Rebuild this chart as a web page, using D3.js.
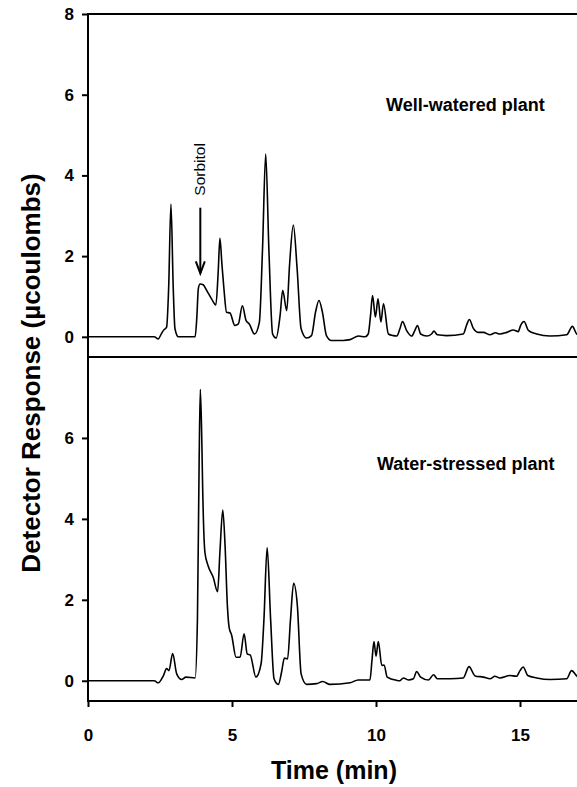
<!DOCTYPE html>
<html>
<head>
<meta charset="utf-8">
<script src="https://cdn.jsdelivr.net/npm/d3@7"></script>
<style>
  body { margin: 0; background: #fff; }
  svg { display: block; font-family: "Liberation Sans", Arial, sans-serif; }
</style>
</head>
<body>
<script>
// chromatogram traces (time in min, response in µcoulombs)
var wellTime = [0, 1, 2, 2.3, 2.44, 2.55, 2.62, 2.73, 2.8, 2.88, 2.96, 3.02, 3.14, 3.72, 3.78, 3.83, 3.89, 4.0, 4.12, 4.29, 4.44, 4.52, 4.58, 4.65, 4.72, 4.81, 4.93, 5.1, 5.22, 5.36, 5.49, 5.6, 5.78, 5.95, 6.06, 6.17, 6.28, 6.41, 6.53, 6.67, 6.76, 6.9, 7.0, 7.13, 7.26, 7.4, 7.59, 7.76, 7.9, 8.02, 8.14, 8.28, 8.45, 8.86, 9.1, 9.39, 9.62, 9.73, 9.81, 9.88, 9.98, 10.07, 10.17, 10.26, 10.43, 10.6, 10.72, 10.83, 10.92, 11.06, 11.24, 11.35, 11.44, 11.55, 11.76, 11.93, 12.01, 12.13, 12.45, 13.03, 13.15, 13.24, 13.38, 13.56, 13.73, 13.96, 14.15, 14.3, 14.54, 14.77, 14.94, 15.02, 15.14, 15.29, 15.58, 16.04, 16.62, 16.82, 16.97, 17.0];
var wellResp = [0, 0, 0, 0, -0.05, 0.08, 0.16, 0.24, 1.2, 3.29, 1.2, 0.2, 0, 0, 0.5, 1.19, 1.31, 1.29, 1.15, 0.94, 0.79, 1.6, 2.44, 1.8, 1.19, 0.61, 0.59, 0.28, 0.32, 0.77, 0.4, 0.32, 0.07, 0.36, 2.18, 4.53, 2.18, 0.07, -0.03, 0.53, 1.15, 0.65, 1.8, 2.77, 1.7, 0.2, -0.03, 0.03, 0.61, 0.9, 0.61, 0.03, -0.09, -0.09, -0.07, 0.02, 0, 0.07, 0.53, 1.02, 0.49, 0.94, 0.37, 0.82, 0.07, 0.03, 0.02, 0.2, 0.38, 0.16, 0.02, 0.16, 0.28, 0.07, 0.02, 0.07, 0.14, 0.05, 0.03, 0.07, 0.3, 0.43, 0.21, 0.11, 0.11, 0.05, 0.1, 0.07, 0.11, 0.17, 0.13, 0.28, 0.38, 0.16, 0.07, 0.02, 0.05, 0.26, 0.07, 0.06];

var stressTime = [0, 1, 2, 2.3, 2.44, 2.62, 2.73, 2.81, 2.94, 3.08, 3.25, 3.4, 3.72, 3.8, 3.86, 3.9, 3.95, 3.98, 4.06, 4.17, 4.35, 4.5, 4.58, 4.68, 4.76, 4.84, 4.9, 4.99, 5.14, 5.28, 5.42, 5.53, 5.63, 5.83, 6.01, 6.11, 6.22, 6.34, 6.46, 6.61, 6.72, 6.82, 6.93, 7.03, 7.14, 7.27, 7.4, 7.59, 7.94, 8.15, 8.4, 9.1, 9.38, 9.79, 9.86, 9.93, 10.0, 10.08, 10.2, 10.28, 10.39, 10.72, 10.83, 10.95, 11.12, 11.3, 11.41, 11.55, 11.82, 12.0, 12.13, 12.57, 13.03, 13.23, 13.44, 13.73, 13.96, 14.13, 14.3, 14.65, 14.88, 15.0, 15.11, 15.27, 15.58, 16.04, 16.62, 16.79, 16.97, 17.0];
var stressResp = [0, 0, 0, 0, -0.05, 0.13, 0.3, 0.25, 0.67, 0.17, 0.03, 0.09, 0.07, 1.53, 5.5, 7.2, 6.0, 4.81, 3.17, 2.84, 2.55, 2.2, 3.17, 4.22, 3.33, 1.85, 1.32, 1.12, 0.58, 0.58, 1.16, 0.66, 0.64, 0.09, 0.42, 1.53, 3.29, 1.53, 0.05, -0.09, 0.21, 0.56, 0.54, 1.5, 2.41, 1.85, 0.17, -0.09, -0.07, -0.02, -0.09, -0.05, 0.02, 0.02, 0.5, 0.97, 0.61, 0.97, 0.38, 0.39, 0.09, 0.01, 0, 0.07, 0.02, 0.05, 0.23, 0.09, 0.02, 0.15, 0.05, 0.05, 0.07, 0.35, 0.12, 0.09, 0.05, 0.11, 0.07, 0.13, 0.11, 0.25, 0.34, 0.13, 0.07, 0.03, 0.05, 0.25, 0.12, 0.1];

var xTicks = [0, 5, 10, 15];
var wellTicks = [0, 2, 4, 6, 8];
var stressTicks = [0, 2, 4, 6];

var width = 577, height = 787;

var svg = d3.select("body").append("svg")
  .attr("width", width)
  .attr("height", height);

var x = d3.scaleLinear().domain([0, 17]).range([88, 577.6]);
var yTop = d3.scaleLinear().domain([-0.5, 8]).range([357, 14]);
var yBot = d3.scaleLinear().domain([-0.5, 8]).range([701, 357]);

function trace(times, resp, y) {
  var pts = times.map(function(t, i) { return [t, resp[i]]; });
  return d3.line()
    .x(function(d) { return x(d[0]); })
    .y(function(d) { return y(d[1]); })
    .curve(d3.curveMonotoneX)(pts);
}

svg.append("path").attr("d", trace(wellTime, wellResp, yTop))
  .attr("fill", "none").attr("stroke", "#000").attr("stroke-width", 1.6);
svg.append("path").attr("d", trace(stressTime, stressResp, yBot))
  .attr("fill", "none").attr("stroke", "#000").attr("stroke-width", 1.6);

// y axes
function yAxis(scale, ticks) {
  var g = svg.append("g").attr("transform", "translate(88,0)")
    .call(d3.axisLeft(scale).tickValues(ticks).tickSize(6).tickPadding(8).tickFormat(d3.format("d")));
  g.select(".domain").remove();
  g.selectAll(".tick line").attr("stroke-width", 2);
  g.selectAll("text").attr("font-size", 17).attr("font-weight", "bold").attr("font-family", null);
}
yAxis(yTop, wellTicks);
yAxis(yBot, stressTicks);

// x axis
var gx = svg.append("g").attr("transform", "translate(0,701)")
  .call(d3.axisBottom(x).tickValues(xTicks).tickSize(6).tickPadding(22));
gx.select(".domain").remove();
gx.selectAll(".tick line").attr("stroke-width", 2);
gx.selectAll("text").attr("font-size", 17).attr("font-weight", "bold").attr("font-family", null);

// frame lines
svg.append("line").attr("x1", 88).attr("x2", 88).attr("y1", 13).attr("y2", 702)
  .attr("stroke", "#000").attr("stroke-width", 2);
svg.append("line").attr("x1", 87).attr("x2", width).attr("y1", 14).attr("y2", 14)
  .attr("stroke", "#000").attr("stroke-width", 1.8);
svg.append("line").attr("x1", 87).attr("x2", width).attr("y1", 357).attr("y2", 357)
  .attr("stroke", "#000").attr("stroke-width", 1.8);
svg.append("line").attr("x1", 87).attr("x2", width).attr("y1", 701).attr("y2", 701)
  .attr("stroke", "#000").attr("stroke-width", 2.2);

// panel labels
svg.append("text").attr("x", 386).attr("y", yTop(5.75) + 6)
  .attr("font-size", 18).attr("font-weight", "bold").text("Well-watered plant");
svg.append("text").attr("x", 377).attr("y", yBot(5.35) + 6)
  .attr("font-size", 18).attr("font-weight", "bold").text("Water-stressed plant");

// sorbitol annotation
var sx = x(3.9);
svg.append("text")
  .attr("transform", "translate(" + (sx + 5) + "," + yTop(4.15) + ") rotate(-90)")
  .attr("text-anchor", "middle").attr("font-size", 15.5).text("Sorbitol");
svg.append("line").attr("x1", sx).attr("x2", sx).attr("y1", yTop(3.2)).attr("y2", yTop(1.57))
  .attr("stroke", "#000").attr("stroke-width", 2);
svg.append("path")
  .attr("d", "M" + (sx - 4.5) + "," + (yTop(1.57) - 12) + "L" + sx + "," + yTop(1.57) + "L" + (sx + 4.5) + "," + (yTop(1.57) - 12))
  .attr("fill", "none").attr("stroke", "#000").attr("stroke-width", 2);

// axis titles
svg.append("text").attr("x", 334).attr("y", 779).attr("text-anchor", "middle")
  .attr("font-size", 25).attr("font-weight", "bold").text("Time (min)");
svg.append("text").attr("transform", "translate(40,373) rotate(-90)").attr("text-anchor", "middle")
  .attr("font-size", 26).attr("font-weight", "bold").text("Detector Response (µcoulombs)");
</script>
</body>
</html>
